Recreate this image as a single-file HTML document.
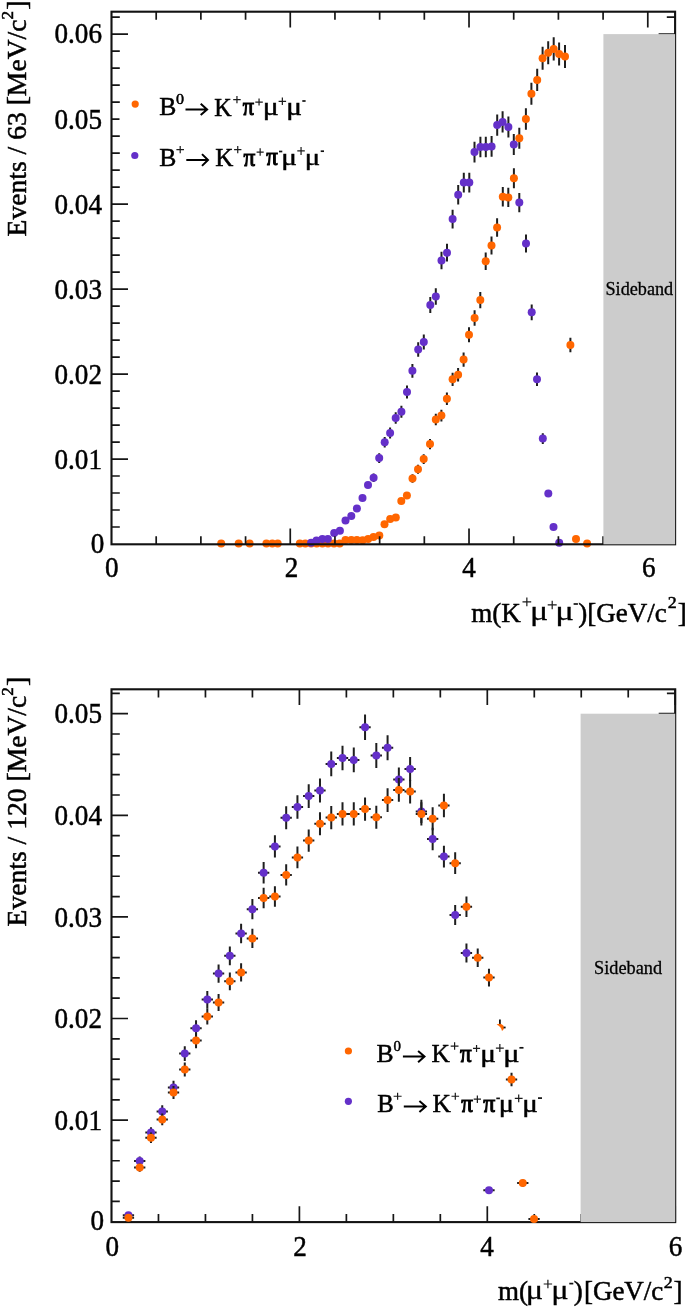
<!DOCTYPE html><html><head><meta charset="utf-8"><style>
html,body{margin:0;padding:0;background:#fff;width:685px;height:1309px;overflow:hidden}
body{position:relative;font-family:"Liberation Serif",serif;color:#000}
text{stroke:#000;stroke-width:0.5px}
</style></head><body>
<svg width="685" height="1309" viewBox="0 0 685 1309" style="position:absolute;left:0;top:0;filter:blur(0.4px);font-family:'Liberation Serif',serif"><rect width="685" height="1309" fill="#fff"/><path d="M412.50 474.29V482.71M418.00 464.81V473.79M423.70 454.31V463.89M430.00 438.90V449.30M435.80 413.70V425.30M441.40 409.71V421.49M446.90 392.53V405.07M452.60 372.63V385.97M458.10 367.93V381.47M463.60 352.54V366.66M469.00 327.18V342.22M474.60 310.18V325.82M480.30 291.98V308.22M485.70 252.46V269.94M491.50 236.41V254.39M497.10 218.15V236.65M502.80 187.11V206.49M508.30 187.72V207.08M513.90 168.36V188.24M519.30 127.72V148.68M525.90 108.28V129.72M531.40 82.67V104.73M537.20 68.70V91.10M542.60 46.74V69.66M548.20 41.28V64.32M553.70 37.33V60.47M559.10 42.39V65.41M565.00 45.02V67.98M570.40 337.66V352.34" stroke="#1e1e1e" stroke-width="2" fill="none"/><circle cx="221.20" cy="543.40" r="4.0" fill="#ff6600"/><circle cx="238.70" cy="543.40" r="4.0" fill="#ff6600"/><circle cx="249.60" cy="543.40" r="4.0" fill="#ff6600"/><circle cx="266.40" cy="543.40" r="4.0" fill="#ff6600"/><circle cx="272.30" cy="543.40" r="4.0" fill="#ff6600"/><circle cx="277.70" cy="543.40" r="4.0" fill="#ff6600"/><circle cx="299.80" cy="543.50" r="4.0" fill="#ff6600"/><circle cx="305.30" cy="543.50" r="4.0" fill="#ff6600"/><circle cx="311.10" cy="543.50" r="4.0" fill="#ff6600"/><circle cx="316.70" cy="543.50" r="4.0" fill="#ff6600"/><circle cx="322.40" cy="543.50" r="4.0" fill="#ff6600"/><circle cx="328.00" cy="543.50" r="4.0" fill="#ff6600"/><circle cx="334.00" cy="543.50" r="4.0" fill="#ff6600"/><circle cx="339.70" cy="543.60" r="4.0" fill="#ff6600"/><circle cx="345.50" cy="540.00" r="4.0" fill="#ff6600"/><circle cx="351.30" cy="540.00" r="4.0" fill="#ff6600"/><circle cx="356.90" cy="540.00" r="4.0" fill="#ff6600"/><circle cx="362.60" cy="540.20" r="4.0" fill="#ff6600"/><circle cx="368.10" cy="538.90" r="4.0" fill="#ff6600"/><circle cx="373.50" cy="537.00" r="4.0" fill="#ff6600"/><circle cx="379.30" cy="535.50" r="4.0" fill="#ff6600"/><circle cx="384.50" cy="524.20" r="4.0" fill="#ff6600"/><circle cx="390.20" cy="519.00" r="4.0" fill="#ff6600"/><circle cx="395.80" cy="517.60" r="4.0" fill="#ff6600"/><circle cx="401.30" cy="501.00" r="4.0" fill="#ff6600"/><circle cx="406.90" cy="495.40" r="4.0" fill="#ff6600"/><circle cx="412.50" cy="478.50" r="4.0" fill="#ff6600"/><circle cx="418.00" cy="469.30" r="4.0" fill="#ff6600"/><circle cx="423.70" cy="459.10" r="4.0" fill="#ff6600"/><circle cx="430.00" cy="444.10" r="4.0" fill="#ff6600"/><circle cx="435.80" cy="419.50" r="4.0" fill="#ff6600"/><circle cx="441.40" cy="415.60" r="4.0" fill="#ff6600"/><circle cx="446.90" cy="398.80" r="4.0" fill="#ff6600"/><circle cx="452.60" cy="379.30" r="4.0" fill="#ff6600"/><circle cx="458.10" cy="374.70" r="4.0" fill="#ff6600"/><circle cx="463.60" cy="359.60" r="4.0" fill="#ff6600"/><circle cx="469.00" cy="334.70" r="4.0" fill="#ff6600"/><circle cx="474.60" cy="318.00" r="4.0" fill="#ff6600"/><circle cx="480.30" cy="300.10" r="4.0" fill="#ff6600"/><circle cx="485.70" cy="261.20" r="4.0" fill="#ff6600"/><circle cx="491.50" cy="245.40" r="4.0" fill="#ff6600"/><circle cx="497.10" cy="227.40" r="4.0" fill="#ff6600"/><circle cx="502.80" cy="196.80" r="4.0" fill="#ff6600"/><circle cx="508.30" cy="197.40" r="4.0" fill="#ff6600"/><circle cx="513.90" cy="178.30" r="4.0" fill="#ff6600"/><circle cx="519.30" cy="138.20" r="4.0" fill="#ff6600"/><circle cx="525.90" cy="119.00" r="4.0" fill="#ff6600"/><circle cx="531.40" cy="93.70" r="4.0" fill="#ff6600"/><circle cx="537.20" cy="79.90" r="4.0" fill="#ff6600"/><circle cx="542.60" cy="58.20" r="4.0" fill="#ff6600"/><circle cx="548.20" cy="52.80" r="4.0" fill="#ff6600"/><circle cx="553.70" cy="48.90" r="4.0" fill="#ff6600"/><circle cx="559.10" cy="53.90" r="4.0" fill="#ff6600"/><circle cx="565.00" cy="56.50" r="4.0" fill="#ff6600"/><circle cx="570.40" cy="345.00" r="4.0" fill="#ff6600"/><circle cx="576.00" cy="538.90" r="4.0" fill="#ff6600"/><circle cx="587.10" cy="543.40" r="4.0" fill="#ff6600"/><path d="M373.60 473.57V482.03M379.20 453.28V462.92M384.70 437.06V447.54M390.10 427.62V438.58M395.70 412.16V423.84M401.40 405.72V417.68M407.00 385.59V398.41M412.40 363.96V377.64M418.20 342.35V356.85M423.80 334.61V349.39M430.30 296.96V313.04M435.80 288.32V304.68M441.50 251.64V269.16M447.00 243.82V261.58M452.60 209.73V228.47M458.20 184.98V204.42M463.80 172.71V192.49M469.30 172.71V192.49M474.50 141.81V162.39M480.40 136.64V157.36M485.80 136.64V157.36M491.60 136.03V156.77M497.20 114.46V135.74M502.60 111.22V132.58M508.40 116.38V137.62M513.80 134.11V154.89M519.30 192.99V212.21M526.00 234.49V252.51M531.70 304.38V320.22M537.00 372.52V385.88M542.80 433.26V443.94" stroke="#1e1e1e" stroke-width="2" fill="none"/><circle cx="311.10" cy="542.80" r="4.0" fill="#6430c9"/><circle cx="316.50" cy="540.60" r="4.0" fill="#6430c9"/><circle cx="322.40" cy="539.00" r="4.0" fill="#6430c9"/><circle cx="327.90" cy="539.00" r="4.0" fill="#6430c9"/><circle cx="334.20" cy="533.10" r="4.0" fill="#6430c9"/><circle cx="339.90" cy="530.70" r="4.0" fill="#6430c9"/><circle cx="345.50" cy="520.40" r="4.0" fill="#6430c9"/><circle cx="351.30" cy="516.00" r="4.0" fill="#6430c9"/><circle cx="356.90" cy="508.50" r="4.0" fill="#6430c9"/><circle cx="362.50" cy="498.00" r="4.0" fill="#6430c9"/><circle cx="368.00" cy="485.00" r="4.0" fill="#6430c9"/><circle cx="373.60" cy="477.80" r="4.0" fill="#6430c9"/><circle cx="379.20" cy="458.10" r="4.0" fill="#6430c9"/><circle cx="384.70" cy="442.30" r="4.0" fill="#6430c9"/><circle cx="390.10" cy="433.10" r="4.0" fill="#6430c9"/><circle cx="395.70" cy="418.00" r="4.0" fill="#6430c9"/><circle cx="401.40" cy="411.70" r="4.0" fill="#6430c9"/><circle cx="407.00" cy="392.00" r="4.0" fill="#6430c9"/><circle cx="412.40" cy="370.80" r="4.0" fill="#6430c9"/><circle cx="418.20" cy="349.60" r="4.0" fill="#6430c9"/><circle cx="423.80" cy="342.00" r="4.0" fill="#6430c9"/><circle cx="430.30" cy="305.00" r="4.0" fill="#6430c9"/><circle cx="435.80" cy="296.50" r="4.0" fill="#6430c9"/><circle cx="441.50" cy="260.40" r="4.0" fill="#6430c9"/><circle cx="447.00" cy="252.70" r="4.0" fill="#6430c9"/><circle cx="452.60" cy="219.10" r="4.0" fill="#6430c9"/><circle cx="458.20" cy="194.70" r="4.0" fill="#6430c9"/><circle cx="463.80" cy="182.60" r="4.0" fill="#6430c9"/><circle cx="469.30" cy="182.60" r="4.0" fill="#6430c9"/><circle cx="474.50" cy="152.10" r="4.0" fill="#6430c9"/><circle cx="480.40" cy="147.00" r="4.0" fill="#6430c9"/><circle cx="485.80" cy="147.00" r="4.0" fill="#6430c9"/><circle cx="491.60" cy="146.40" r="4.0" fill="#6430c9"/><circle cx="497.20" cy="125.10" r="4.0" fill="#6430c9"/><circle cx="502.60" cy="121.90" r="4.0" fill="#6430c9"/><circle cx="508.40" cy="127.00" r="4.0" fill="#6430c9"/><circle cx="513.80" cy="144.50" r="4.0" fill="#6430c9"/><circle cx="519.30" cy="202.60" r="4.0" fill="#6430c9"/><circle cx="526.00" cy="243.50" r="4.0" fill="#6430c9"/><circle cx="531.70" cy="312.30" r="4.0" fill="#6430c9"/><circle cx="537.00" cy="379.20" r="4.0" fill="#6430c9"/><circle cx="542.80" cy="438.60" r="4.0" fill="#6430c9"/><circle cx="548.30" cy="493.60" r="4.0" fill="#6430c9"/><circle cx="553.50" cy="526.90" r="4.0" fill="#6430c9"/><circle cx="559.20" cy="542.70" r="4.0" fill="#6430c9"/><path d="M158.47 1222.10V1214.00M158.47 689.30V697.40M205.45 1222.10V1214.00M205.45 689.30V697.40M252.43 1222.10V1214.00M252.43 689.30V697.40M299.40 1222.10V1206.30M299.40 689.30V705.10M346.38 1222.10V1214.00M346.38 689.30V697.40M393.35 1222.10V1214.00M393.35 689.30V697.40M440.32 1222.10V1214.00M440.32 689.30V697.40M487.30 1222.10V1206.30M487.30 689.30V705.10M534.28 1222.10V1214.00M534.28 689.30V697.40M581.25 1222.10V1214.00M581.25 689.30V697.40M628.23 1222.10V1214.00M628.23 689.30V697.40M675.20 1222.10V1206.30M675.20 689.30V705.10M111.50 1201.38H119.80M675.20 1201.38H666.90M111.50 1181.06H119.80M675.20 1181.06H666.90M111.50 1160.74H119.80M675.20 1160.74H666.90M111.50 1140.42H119.80M675.20 1140.42H666.90M111.50 1120.10H128.00M675.20 1120.10H658.70M111.50 1099.78H119.80M675.20 1099.78H666.90M111.50 1079.46H119.80M675.20 1079.46H666.90M111.50 1059.14H119.80M675.20 1059.14H666.90M111.50 1038.82H119.80M675.20 1038.82H666.90M111.50 1018.50H128.00M675.20 1018.50H658.70M111.50 998.18H119.80M675.20 998.18H666.90M111.50 977.86H119.80M675.20 977.86H666.90M111.50 957.54H119.80M675.20 957.54H666.90M111.50 937.22H119.80M675.20 937.22H666.90M111.50 916.90H128.00M675.20 916.90H658.70M111.50 896.58H119.80M675.20 896.58H666.90M111.50 876.26H119.80M675.20 876.26H666.90M111.50 855.94H119.80M675.20 855.94H666.90M111.50 835.62H119.80M675.20 835.62H666.90M111.50 815.30H128.00M675.20 815.30H658.70M111.50 794.98H119.80M675.20 794.98H666.90M111.50 774.66H119.80M675.20 774.66H666.90M111.50 754.34H119.80M675.20 754.34H666.90M111.50 734.02H119.80M675.20 734.02H666.90M111.50 713.70H128.00M675.20 713.70H658.70M111.50 693.38H119.80M675.20 693.38H666.90" stroke="#161616" stroke-width="1.7" fill="none"/><rect x="111.5" y="689.3" width="563.7" height="532.8" fill="none" stroke="#121212" stroke-width="2.1"/><path d="M128.44 1213.85V1216.75M122.79 1215.30H134.09M139.71 1156.53V1165.47M134.06 1161.00H145.36M150.97 1127.18V1138.02M145.32 1132.60H156.62M162.24 1105.37V1117.43M156.59 1111.40H167.89M173.51 1080.75V1094.05M167.86 1087.40H179.16M184.77 1046.16V1061.04M179.12 1053.60H190.42M196.04 1020.32V1036.28M190.39 1028.30H201.69M207.31 991.05V1008.15M201.66 999.60H212.96M218.58 964.56V982.64M212.93 973.60H224.23M229.84 946.44V965.16M224.19 955.80H235.49M241.11 923.86V943.34M235.46 933.60H246.76M252.38 899.05V919.35M246.73 909.20H258.03M263.64 861.98V883.42M257.99 872.70H269.29M274.91 835.28V857.52M269.26 846.40H280.56M286.18 806.16V829.24M280.53 817.70H291.83M297.44 795.31V818.69M291.80 807.00H303.09M308.71 784.26V807.94M303.06 796.10H314.36M319.98 778.58V802.42M314.33 790.50H325.63M331.25 751.62V776.18M325.60 763.90H336.90M342.51 745.64V770.36M336.86 758.00H348.16M353.78 747.57V772.23M348.13 759.90H359.43M365.05 714.54V740.06M359.40 727.30H370.70M376.31 743.11V767.89M370.66 755.50H381.96M387.58 735.30V760.30M381.93 747.80H393.23M398.85 767.53V791.67M393.20 779.60H404.50M410.12 756.89V781.31M404.47 769.10H415.76M421.38 799.77V823.03M415.73 811.40H427.03M432.65 827.87V850.33M427.00 839.10H438.30M443.92 845.63V867.57M438.27 856.60H449.57M455.18 904.95V925.05M449.53 915.00H460.83M466.45 943.59V962.41M460.80 953.00H472.10M488.98 1186.98V1193.42M483.33 1190.20H494.63" stroke="#1e1e1e" stroke-width="2" fill="none"/><circle cx="128.44" cy="1215.30" r="4.0" fill="#6430c9"/><circle cx="139.71" cy="1161.00" r="4.0" fill="#6430c9"/><circle cx="150.97" cy="1132.60" r="4.0" fill="#6430c9"/><circle cx="162.24" cy="1111.40" r="4.0" fill="#6430c9"/><circle cx="173.51" cy="1087.40" r="4.0" fill="#6430c9"/><circle cx="184.77" cy="1053.60" r="4.0" fill="#6430c9"/><circle cx="196.04" cy="1028.30" r="4.0" fill="#6430c9"/><circle cx="207.31" cy="999.60" r="4.0" fill="#6430c9"/><circle cx="218.58" cy="973.60" r="4.0" fill="#6430c9"/><circle cx="229.84" cy="955.80" r="4.0" fill="#6430c9"/><circle cx="241.11" cy="933.60" r="4.0" fill="#6430c9"/><circle cx="252.38" cy="909.20" r="4.0" fill="#6430c9"/><circle cx="263.64" cy="872.70" r="4.0" fill="#6430c9"/><circle cx="274.91" cy="846.40" r="4.0" fill="#6430c9"/><circle cx="286.18" cy="817.70" r="4.0" fill="#6430c9"/><circle cx="297.44" cy="807.00" r="4.0" fill="#6430c9"/><circle cx="308.71" cy="796.10" r="4.0" fill="#6430c9"/><circle cx="319.98" cy="790.50" r="4.0" fill="#6430c9"/><circle cx="331.25" cy="763.90" r="4.0" fill="#6430c9"/><circle cx="342.51" cy="758.00" r="4.0" fill="#6430c9"/><circle cx="353.78" cy="759.90" r="4.0" fill="#6430c9"/><circle cx="365.05" cy="727.30" r="4.0" fill="#6430c9"/><circle cx="376.31" cy="755.50" r="4.0" fill="#6430c9"/><circle cx="387.58" cy="747.80" r="4.0" fill="#6430c9"/><circle cx="398.85" cy="779.60" r="4.0" fill="#6430c9"/><circle cx="410.12" cy="769.10" r="4.0" fill="#6430c9"/><circle cx="421.38" cy="811.40" r="4.0" fill="#6430c9"/><circle cx="432.65" cy="839.10" r="4.0" fill="#6430c9"/><circle cx="443.92" cy="856.60" r="4.0" fill="#6430c9"/><circle cx="455.18" cy="915.00" r="4.0" fill="#6430c9"/><circle cx="466.45" cy="953.00" r="4.0" fill="#6430c9"/><circle cx="488.98" cy="1190.20" r="4.0" fill="#6430c9"/><path d="M128.44 1216.67V1218.93M122.79 1217.80H134.09M139.71 1163.38V1171.82M134.06 1167.60H145.36M150.97 1132.44V1142.96M145.32 1137.70H156.62M162.24 1113.59V1125.21M156.59 1119.40H167.89M173.51 1086.08V1099.12M167.86 1092.60H179.16M184.77 1062.42V1076.58M179.12 1069.50H190.42M196.04 1032.67V1048.13M190.39 1040.40H201.69M207.31 1008.18V1024.62M201.66 1016.40H212.96M218.58 994.00V1011.00M212.93 1002.50H224.23M229.84 972.40V990.20M224.19 981.30H235.49M241.11 963.34V981.46M235.46 972.40H246.76M252.38 928.74V948.06M246.73 938.40H258.03M263.64 887.67V908.33M257.99 898.00H269.29M274.91 886.15V906.85M269.26 896.50H280.56M286.18 864.21V885.59M280.53 874.90H291.83M297.44 846.44V868.36M291.80 857.40H303.09M308.71 829.39V851.81M303.06 840.60H314.36M319.98 812.35V835.25M314.33 823.80H325.63M331.25 806.06V829.14M325.60 817.60H336.90M342.51 802.31V825.49M336.86 813.90H348.16M353.78 802.31V825.49M348.13 813.90H359.43M365.05 797.44V820.76M359.40 809.10H370.70M376.31 805.66V828.74M370.66 817.20H381.96M387.58 788.31V811.89M381.93 800.10H393.23M398.85 777.97V801.83M393.20 789.90H404.50M410.12 779.70V803.50M404.47 791.60H415.76M421.38 802.31V825.49M415.73 813.90H427.03M432.65 807.18V830.22M427.00 818.70H438.30M443.92 793.79V817.21M438.27 805.50H449.57M455.18 852.33V874.07M449.53 863.20H460.83M466.45 896.51V916.89M460.80 906.70H472.10M477.72 948.48V967.12M472.07 957.80H483.37M488.98 968.63V986.57M483.33 977.60H494.63M511.52 1072.66V1086.34M505.87 1079.50H517.17M522.78 1179.53V1186.67M517.13 1183.10H528.43M534.05 1218.06V1219.94M528.40 1219.00H539.70" stroke="#1e1e1e" stroke-width="2" fill="none"/><circle cx="128.44" cy="1217.80" r="4.0" fill="#ff6600"/><circle cx="139.71" cy="1167.60" r="4.0" fill="#ff6600"/><circle cx="150.97" cy="1137.70" r="4.0" fill="#ff6600"/><circle cx="162.24" cy="1119.40" r="4.0" fill="#ff6600"/><circle cx="173.51" cy="1092.60" r="4.0" fill="#ff6600"/><circle cx="184.77" cy="1069.50" r="4.0" fill="#ff6600"/><circle cx="196.04" cy="1040.40" r="4.0" fill="#ff6600"/><circle cx="207.31" cy="1016.40" r="4.0" fill="#ff6600"/><circle cx="218.58" cy="1002.50" r="4.0" fill="#ff6600"/><circle cx="229.84" cy="981.30" r="4.0" fill="#ff6600"/><circle cx="241.11" cy="972.40" r="4.0" fill="#ff6600"/><circle cx="252.38" cy="938.40" r="4.0" fill="#ff6600"/><circle cx="263.64" cy="898.00" r="4.0" fill="#ff6600"/><circle cx="274.91" cy="896.50" r="4.0" fill="#ff6600"/><circle cx="286.18" cy="874.90" r="4.0" fill="#ff6600"/><circle cx="297.44" cy="857.40" r="4.0" fill="#ff6600"/><circle cx="308.71" cy="840.60" r="4.0" fill="#ff6600"/><circle cx="319.98" cy="823.80" r="4.0" fill="#ff6600"/><circle cx="331.25" cy="817.60" r="4.0" fill="#ff6600"/><circle cx="342.51" cy="813.90" r="4.0" fill="#ff6600"/><circle cx="353.78" cy="813.90" r="4.0" fill="#ff6600"/><circle cx="365.05" cy="809.10" r="4.0" fill="#ff6600"/><circle cx="376.31" cy="817.20" r="4.0" fill="#ff6600"/><circle cx="387.58" cy="800.10" r="4.0" fill="#ff6600"/><circle cx="398.85" cy="789.90" r="4.0" fill="#ff6600"/><circle cx="410.12" cy="791.60" r="4.0" fill="#ff6600"/><circle cx="421.38" cy="813.90" r="4.0" fill="#ff6600"/><circle cx="432.65" cy="818.70" r="4.0" fill="#ff6600"/><circle cx="443.92" cy="805.50" r="4.0" fill="#ff6600"/><circle cx="455.18" cy="863.20" r="4.0" fill="#ff6600"/><circle cx="466.45" cy="906.70" r="4.0" fill="#ff6600"/><circle cx="477.72" cy="957.80" r="4.0" fill="#ff6600"/><circle cx="488.98" cy="977.60" r="4.0" fill="#ff6600"/><circle cx="511.52" cy="1079.50" r="4.0" fill="#ff6600"/><circle cx="522.78" cy="1183.10" r="4.0" fill="#ff6600"/><circle cx="534.05" cy="1219.00" r="4.0" fill="#ff6600"/><path d="M499.9 1019.4V1024.2" stroke="#111" stroke-width="1.8"/><path d="M496.6 1024.6 Q500.5 1022.6 503.3 1025.4 Q505.2 1028.5 502.0 1031.0 Q501.3 1027.0 496.6 1024.6Z" fill="#ff6600"/><path d="M503.6 1027.5H505.6" stroke="#111" stroke-width="1.8"/><path d="M156.19 544.30V536.20M156.19 11.70V19.80M200.88 544.30V536.20M200.88 11.70V19.80M245.57 544.30V536.20M245.57 11.70V19.80M290.26 544.30V528.50M290.26 11.70V27.50M334.95 544.30V536.20M334.95 11.70V19.80M379.64 544.30V536.20M379.64 11.70V19.80M424.33 544.30V536.20M424.33 11.70V19.80M469.02 544.30V528.50M469.02 11.70V27.50M513.71 544.30V536.20M513.71 11.70V19.80M558.40 544.30V536.20M558.40 11.70V19.80M603.09 544.30V536.20M603.09 11.70V19.80M647.78 544.30V528.50M647.78 11.70V27.50M111.50 527.01H119.80M675.10 527.01H666.80M111.50 510.01H119.80M675.10 510.01H666.80M111.50 493.02H119.80M675.10 493.02H666.80M111.50 476.02H119.80M675.10 476.02H666.80M111.50 459.03H128.00M675.10 459.03H658.60M111.50 442.04H119.80M675.10 442.04H666.80M111.50 425.04H119.80M675.10 425.04H666.80M111.50 408.05H119.80M675.10 408.05H666.80M111.50 391.05H119.80M675.10 391.05H666.80M111.50 374.06H128.00M675.10 374.06H658.60M111.50 357.07H119.80M675.10 357.07H666.80M111.50 340.07H119.80M675.10 340.07H666.80M111.50 323.08H119.80M675.10 323.08H666.80M111.50 306.08H119.80M675.10 306.08H666.80M111.50 289.09H128.00M675.10 289.09H658.60M111.50 272.10H119.80M675.10 272.10H666.80M111.50 255.10H119.80M675.10 255.10H666.80M111.50 238.11H119.80M675.10 238.11H666.80M111.50 221.11H119.80M675.10 221.11H666.80M111.50 204.12H128.00M675.10 204.12H658.60M111.50 187.13H119.80M675.10 187.13H666.80M111.50 170.13H119.80M675.10 170.13H666.80M111.50 153.14H119.80M675.10 153.14H666.80M111.50 136.14H119.80M675.10 136.14H666.80M111.50 119.15H119.50M675.10 119.15H658.60M111.50 102.16H119.80M675.10 102.16H666.80M111.50 85.16H119.80M675.10 85.16H666.80M111.50 68.17H119.80M675.10 68.17H666.80M111.50 51.17H119.80M675.10 51.17H666.80M111.50 34.18H128.00M675.10 34.18H658.60M111.50 17.19H119.80M675.10 17.19H666.80" stroke="#161616" stroke-width="1.7" fill="none"/><rect x="111.5" y="11.7" width="563.6" height="532.5999999999999" fill="none" stroke="#121212" stroke-width="2.1"/><rect x="603.4" y="34.1" width="71.70" height="510.20" fill="#cccccc"/><rect x="580.6" y="713.7" width="94.60" height="508.40" fill="#cccccc"/><text transform="translate(54.49,468.78) scale(0.93,1)" font-size="29.2">0.01</text>
<text transform="translate(54.49,383.81) scale(0.93,1)" font-size="29.2">0.02</text>
<text transform="translate(54.49,298.84) scale(0.93,1)" font-size="29.2">0.03</text>
<text transform="translate(54.49,213.87) scale(0.93,1)" font-size="29.2">0.04</text>
<text transform="translate(54.49,128.90) scale(0.93,1)" font-size="29.2">0.05</text>
<text transform="translate(54.49,43.03) scale(0.93,1)" font-size="29.2">0.06</text>
<text transform="translate(90.71,553.00) scale(0.930,1)" font-size="29.20" fill="#000">0</text>
<text transform="translate(54.49,1129.85) scale(0.93,1)" font-size="29.2">0.01</text>
<text transform="translate(54.49,1028.25) scale(0.93,1)" font-size="29.2">0.02</text>
<text transform="translate(54.49,926.65) scale(0.93,1)" font-size="29.2">0.03</text>
<text transform="translate(54.49,825.05) scale(0.93,1)" font-size="29.2">0.04</text>
<text transform="translate(54.49,723.45) scale(0.93,1)" font-size="29.2">0.05</text>
<text transform="translate(90.61,1229.80) scale(0.930,1)" font-size="29.20" fill="#000">0</text>
<text transform="translate(105.01,577.40) scale(0.930,1)" font-size="29.20" fill="#000">0</text>
<text transform="translate(284.76,577.40) scale(0.930,1)" font-size="29.20" fill="#000">2</text>
<text transform="translate(462.16,577.40) scale(0.930,1)" font-size="29.20" fill="#000">4</text>
<text transform="translate(641.93,577.40) scale(0.930,1)" font-size="29.20" fill="#000">6</text>
<text transform="translate(105.51,1255.60) scale(0.930,1)" font-size="29.20" fill="#000">0</text>
<text transform="translate(293.26,1255.60) scale(0.930,1)" font-size="29.20" fill="#000">2</text>
<text transform="translate(480.16,1255.60) scale(0.930,1)" font-size="29.20" fill="#000">4</text>
<text transform="translate(668.63,1255.60) scale(0.930,1)" font-size="29.20" fill="#000">6</text>
<text transform="translate(26.30,236.39) rotate(-90)" font-size="27.6">Events / 63 [MeV/c<tspan dy="-12.9" font-size="17.1">2</tspan><tspan dy="12.9" dx="1.2">]</tspan></text>
<text transform="translate(26.30,926.39) rotate(-90)" font-size="27.6">Events / 120 [MeV/c<tspan dy="-12.9" font-size="17.1">2</tspan><tspan dy="12.9" dx="1.2">]</tspan></text>
<text transform="translate(471.33,621.80)" font-size="27.00" fill="#000">m(K</text>
<path d="M522.50 601.85H531.20M526.85 597.50V606.20" stroke="#1a1a1a" stroke-width="1.2" fill="none"/>
<text style="stroke-width:0.29px" transform="translate(530.07,619.95) scale(1.205,1)" font-size="28.16" fill="#000">μ</text>
<path d="M547.70 604.95H556.70M552.20 600.70V609.20" stroke="#1a1a1a" stroke-width="1.2" fill="none"/>
<text style="stroke-width:0.28px" transform="translate(555.20,619.95) scale(1.239,1)" font-size="28.16" fill="#000">μ</text>
<path d="M573.60 604.00H577.90" stroke="#111" stroke-width="1.7" fill="none"/>
<text transform="translate(578.23,621.80)" font-size="27.00" fill="#000">)</text>
<text transform="translate(587.30,621.80)" font-size="27.00" fill="#000">[GeV/c</text>
<text transform="translate(667.66,608.25) scale(1.071,1)" font-size="16.76" fill="#000">2</text>
<text transform="translate(677.82,621.80)" font-size="27.00" fill="#000">]</text>
<text transform="translate(497.93,1300.30)" font-size="27.00" fill="#000">m(</text>
<text style="stroke-width:0.29px" transform="translate(525.79,1299.10) scale(1.224,1)" font-size="26.53" fill="#000">μ</text>
<path d="M543.70 1284.00H552.10M547.90 1279.80V1288.20" stroke="#1a1a1a" stroke-width="1.2" fill="none"/>
<text style="stroke-width:0.29px" transform="translate(551.19,1299.10) scale(1.224,1)" font-size="26.53" fill="#000">μ</text>
<path d="M569.30 1283.60H573.30" stroke="#111" stroke-width="1.7" fill="none"/>
<text transform="translate(573.63,1300.30)" font-size="27.00" fill="#000">)</text>
<text transform="translate(583.90,1300.30)" font-size="27.00" fill="#000">[GeV/c</text>
<text transform="translate(663.76,1287.55) scale(1.025,1)" font-size="17.52" fill="#000">2</text>
<text transform="translate(673.42,1300.30)" font-size="27.00" fill="#000">]</text>
<text style="stroke-width:0.3px" transform="translate(605.48,294.80)" font-size="18.20" fill="#000">Sideband</text>
<text style="stroke-width:0.3px" transform="translate(594.08,974.10)" font-size="18.30" fill="#000">Sideband</text>
<text transform="translate(159.21,115.48) scale(1.040,1)" font-size="24.63" fill="#000">B</text>
<text transform="translate(175.94,104.21) scale(1.094,1)" font-size="14.67" fill="#000">0</text>
<path d="M185.50 109.40H206.60M200.70 103.80L207.10 109.40L200.70 115.00" stroke="#000" stroke-width="2.0" fill="none" stroke-linecap="butt" stroke-linejoin="miter"/>
<text transform="translate(214.26,115.75) scale(0.959,1)" font-size="25.05" fill="#000">K</text>
<path d="M233.20 99.60H240.70M236.95 96.00V103.20" stroke="#1a1a1a" stroke-width="1.2" fill="none"/>
<text style="stroke-width:1.14px" transform="translate(242.75,115.00) scale(0.877,1)" font-size="25.39" fill="#000">π</text>
<path d="M255.30 102.05H262.80M259.05 98.50V105.60" stroke="#1a1a1a" stroke-width="1.2" fill="none"/>
<text style="stroke-width:0.47px" transform="translate(262.81,114.82) scale(1.170,1)" font-size="25.49" fill="#000">μ</text>
<path d="M278.60 101.30H286.10M282.35 97.60V105.00" stroke="#1a1a1a" stroke-width="1.2" fill="none"/>
<text style="stroke-width:0.48px" transform="translate(286.25,114.82) scale(1.151,1)" font-size="25.49" fill="#000">μ</text>
<path d="M302.30 101.00H305.60" stroke="#111" stroke-width="1.7" fill="none"/>
<text transform="translate(159.21,165.68) scale(1.028,1)" font-size="24.93" fill="#000">B</text>
<path d="M176.40 149.65H184.00M180.20 146.10V153.20" stroke="#1a1a1a" stroke-width="1.2" fill="none"/>
<path d="M186.30 160.00H207.50M202.00 154.10L208.00 160.00L202.00 165.90" stroke="#000" stroke-width="2.0" fill="none" stroke-linecap="butt" stroke-linejoin="miter"/>
<text transform="translate(215.13,165.95) scale(0.987,1)" font-size="25.35" fill="#000">K</text>
<path d="M234.10 149.55H241.40M237.75 145.90V153.20" stroke="#1a1a1a" stroke-width="1.2" fill="none"/>
<text style="stroke-width:1.09px" transform="translate(243.53,165.70) scale(0.918,1)" font-size="25.39" fill="#000">π</text>
<path d="M256.60 152.05H263.70M260.15 148.30V155.80" stroke="#1a1a1a" stroke-width="1.2" fill="none"/>
<text style="stroke-width:1.11px" transform="translate(266.14,165.30) scale(0.902,1)" font-size="25.39" fill="#000">π</text>
<path d="M279.00 151.50H282.30" stroke="#111" stroke-width="1.7" fill="none"/>
<text style="stroke-width:0.44px" transform="translate(281.15,165.10) scale(1.262,1)" font-size="23.26" fill="#000">μ</text>
<path d="M297.30 150.90H304.80M301.05 146.90V154.90" stroke="#1a1a1a" stroke-width="1.2" fill="none"/>
<text style="stroke-width:0.45px" transform="translate(304.81,165.10) scale(1.230,1)" font-size="23.26" fill="#000">μ</text>
<path d="M320.70 151.20H324.00" stroke="#111" stroke-width="1.7" fill="none"/>
<text transform="translate(376.61,1062.08) scale(1.028,1)" font-size="24.93" fill="#000">B</text>
<text transform="translate(393.48,1051.10) scale(0.974,1)" font-size="15.26" fill="#000">0</text>
<path d="M402.90 1056.60H424.00M418.10 1050.90L424.50 1056.60L418.10 1062.30" stroke="#000" stroke-width="2.0" fill="none" stroke-linecap="butt" stroke-linejoin="miter"/>
<text transform="translate(431.52,1062.45) scale(0.993,1)" font-size="25.50" fill="#000">K</text>
<path d="M450.70 1046.05H458.50M454.60 1042.30V1049.80" stroke="#1a1a1a" stroke-width="1.2" fill="none"/>
<text style="stroke-width:1.05px" transform="translate(460.03,1061.81) scale(0.950,1)" font-size="24.32" fill="#000">π</text>
<path d="M473.00 1048.45H480.10M476.55 1044.90V1052.00" stroke="#1a1a1a" stroke-width="1.2" fill="none"/>
<text style="stroke-width:0.48px" transform="translate(480.35,1061.99) scale(1.145,1)" font-size="25.64" fill="#000">μ</text>
<path d="M495.90 1048.05H503.80M499.85 1044.10V1052.00" stroke="#1a1a1a" stroke-width="1.2" fill="none"/>
<text style="stroke-width:0.47px" transform="translate(503.17,1061.99) scale(1.182,1)" font-size="25.64" fill="#000">μ</text>
<path d="M519.40 1047.80H523.50" stroke="#111" stroke-width="1.7" fill="none"/>
<text transform="translate(377.14,1112.08) scale(1.018,1)" font-size="24.33" fill="#000">B</text>
<path d="M393.60 1096.25H401.60M397.60 1092.70V1099.80" stroke="#1a1a1a" stroke-width="1.2" fill="none"/>
<path d="M403.80 1106.60H425.30M419.40 1101.10L425.80 1106.60L419.40 1112.10" stroke="#000" stroke-width="2.0" fill="none" stroke-linecap="butt" stroke-linejoin="miter"/>
<text transform="translate(432.62,1112.45) scale(1.017,1)" font-size="24.89" fill="#000">K</text>
<path d="M451.50 1096.25H459.10M455.30 1092.70V1099.80" stroke="#1a1a1a" stroke-width="1.2" fill="none"/>
<text style="stroke-width:1.09px" transform="translate(461.13,1111.70) scale(0.918,1)" font-size="25.17" fill="#000">π</text>
<path d="M473.70 1099.15H481.00M477.35 1095.40V1102.90" stroke="#1a1a1a" stroke-width="1.2" fill="none"/>
<text style="stroke-width:1.08px" transform="translate(483.23,1111.70) scale(0.927,1)" font-size="25.60" fill="#000">π</text>
<path d="M496.30 1098.40H499.90" stroke="#111" stroke-width="1.7" fill="none"/>
<text style="stroke-width:0.48px" transform="translate(498.82,1112.15) scale(1.140,1)" font-size="24.89" fill="#000">μ</text>
<path d="M514.80 1098.45H522.60M518.70 1094.60V1102.30" stroke="#1a1a1a" stroke-width="1.2" fill="none"/>
<text style="stroke-width:0.47px" transform="translate(522.17,1112.15) scale(1.169,1)" font-size="24.89" fill="#000">μ</text>
<path d="M538.00 1098.10H542.00" stroke="#111" stroke-width="1.7" fill="none"/>
<circle cx="135.2" cy="104.1" r="3.6" fill="#ff6600"/>
<circle cx="134.8" cy="155.5" r="3.6" fill="#6430c9"/>
<circle cx="348.4" cy="1051.0" r="3.6" fill="#ff6600"/>
<circle cx="348.4" cy="1101.3" r="3.6" fill="#6430c9"/></svg>
</body></html>
